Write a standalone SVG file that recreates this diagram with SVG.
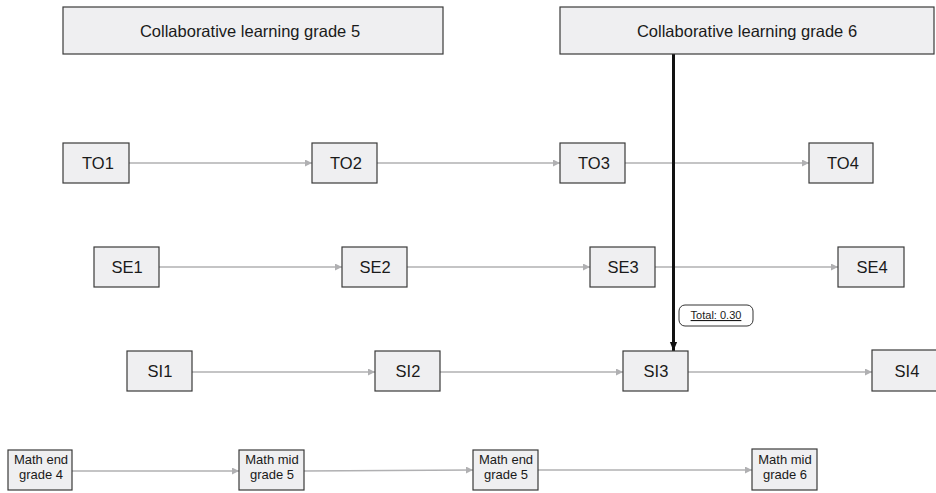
<svg xmlns="http://www.w3.org/2000/svg" width="936" height="493" viewBox="0 0 936 493">
<style>
.box{fill:#efeff1;stroke:#3a3a3a;stroke-width:1.2}
.t{font-family:"Liberation Sans",Arial,sans-serif;font-size:16.5px;fill:#1a1a1a;text-anchor:middle}
.m{font-family:"Liberation Sans",Arial,sans-serif;font-size:13px;fill:#1a1a1a;text-anchor:middle}
.c{stroke:#b0b0b2;stroke-width:1.6;fill:none;marker-end:url(#ga)}
</style>
<defs>
<marker id="ga" viewBox="0 0 10 10" refX="10" refY="5" markerWidth="7" markerHeight="7" markerUnits="userSpaceOnUse" orient="auto">
<path d="M0,0 L10,5 L0,10 z" fill="#b0b0b2"/>
</marker>
<marker id="ba" viewBox="0 0 10 10" refX="10" refY="5" markerWidth="9" markerHeight="9" markerUnits="userSpaceOnUse" orient="auto">
<path d="M0,1 L10,5 L0,9 z" fill="#111"/>
</marker>
</defs>
<rect width="936" height="493" fill="#ffffff"/>
<g id="connectors">
<line class="c" x1="129" y1="163" x2="312" y2="163"/>
<line class="c" x1="377" y1="163" x2="560" y2="163"/>
<line class="c" x1="625" y1="163" x2="809" y2="163"/>
<line class="c" x1="159" y1="267" x2="342" y2="267"/>
<line class="c" x1="407" y1="267" x2="590" y2="267"/>
<line class="c" x1="655" y1="267" x2="838" y2="267"/>
<line class="c" x1="192" y1="372" x2="375" y2="372"/>
<line class="c" x1="440" y1="372" x2="623" y2="372"/>
<line class="c" x1="688" y1="372" x2="872" y2="372"/>
<line class="c" x1="72" y1="471" x2="239" y2="471"/>
<line class="c" x1="304" y1="471" x2="473" y2="470"/>
<line class="c" x1="538" y1="470" x2="752" y2="470"/>
<line x1="673.5" y1="54" x2="673.5" y2="351" stroke="#111" stroke-width="3" marker-end="url(#ba)"/>
<g id="label-total">
<rect x="679" y="305" width="74" height="21" rx="6" fill="#ffffff" stroke="#333" stroke-width="1"/>
<text x="716" y="319" font-family="Liberation Sans, Arial, sans-serif" font-size="11" fill="#1a1a1a" text-anchor="middle" text-decoration="underline">Total: 0.30</text>
</g>
</g>
<g id="cl5"><rect class="box" x="63" y="7" width="380" height="47"/><text class="t" x="250" y="36.5">Collaborative learning grade 5</text></g>
<g id="cl6"><rect class="box" x="560" y="7" width="374" height="47"/><text class="t" x="747" y="36.5">Collaborative learning grade 6</text></g>
<g id="TO1"><rect class="box" x="63" y="143" width="66" height="40"/><text class="t" x="98" y="169">TO1</text></g>
<g id="TO2"><rect class="box" x="312" y="143" width="65" height="40"/><text class="t" x="346" y="169">TO2</text></g>
<g id="TO3"><rect class="box" x="560" y="143" width="65" height="40"/><text class="t" x="594" y="169">TO3</text></g>
<g id="TO4"><rect class="box" x="809" y="143" width="64" height="40"/><text class="t" x="843" y="169">TO4</text></g>
<g id="SE1"><rect class="box" x="94" y="247" width="65" height="40"/><text class="t" x="127" y="273">SE1</text></g>
<g id="SE2"><rect class="box" x="342" y="247" width="65" height="40"/><text class="t" x="375" y="273">SE2</text></g>
<g id="SE3"><rect class="box" x="590" y="247" width="65" height="40"/><text class="t" x="623" y="273">SE3</text></g>
<g id="SE4"><rect class="box" x="838" y="247" width="66" height="40"/><text class="t" x="872" y="273">SE4</text></g>
<g id="SI1"><rect class="box" x="127" y="351" width="65" height="40"/><text class="t" x="160" y="377">SI1</text></g>
<g id="SI2"><rect class="box" x="375" y="351" width="65" height="40"/><text class="t" x="408" y="377">SI2</text></g>
<g id="SI3"><rect class="box" x="623" y="351" width="65" height="40"/><text class="t" x="656" y="377">SI3</text></g>
<g id="SI4"><rect class="box" x="872" y="350" width="66" height="41"/><text class="t" x="907" y="377">SI4</text></g>
<g id="M1"><rect class="box" x="8" y="450" width="64" height="40"/><text class="m" x="41" y="463.5">Math end</text><text class="m" x="41" y="478.5">grade 4</text></g>
<g id="M2"><rect class="box" x="239" y="450" width="65" height="40"/><text class="m" x="272" y="463.5">Math mid</text><text class="m" x="272" y="478.5">grade 5</text></g>
<g id="M3"><rect class="box" x="473" y="450" width="65" height="40"/><text class="m" x="506" y="463.5">Math end</text><text class="m" x="506" y="478.5">grade 5</text></g>
<g id="M4"><rect class="box" x="752" y="449" width="65" height="41"/><text class="m" x="785" y="463.5">Math mid</text><text class="m" x="785" y="478.5">grade 6</text></g>
</svg>
